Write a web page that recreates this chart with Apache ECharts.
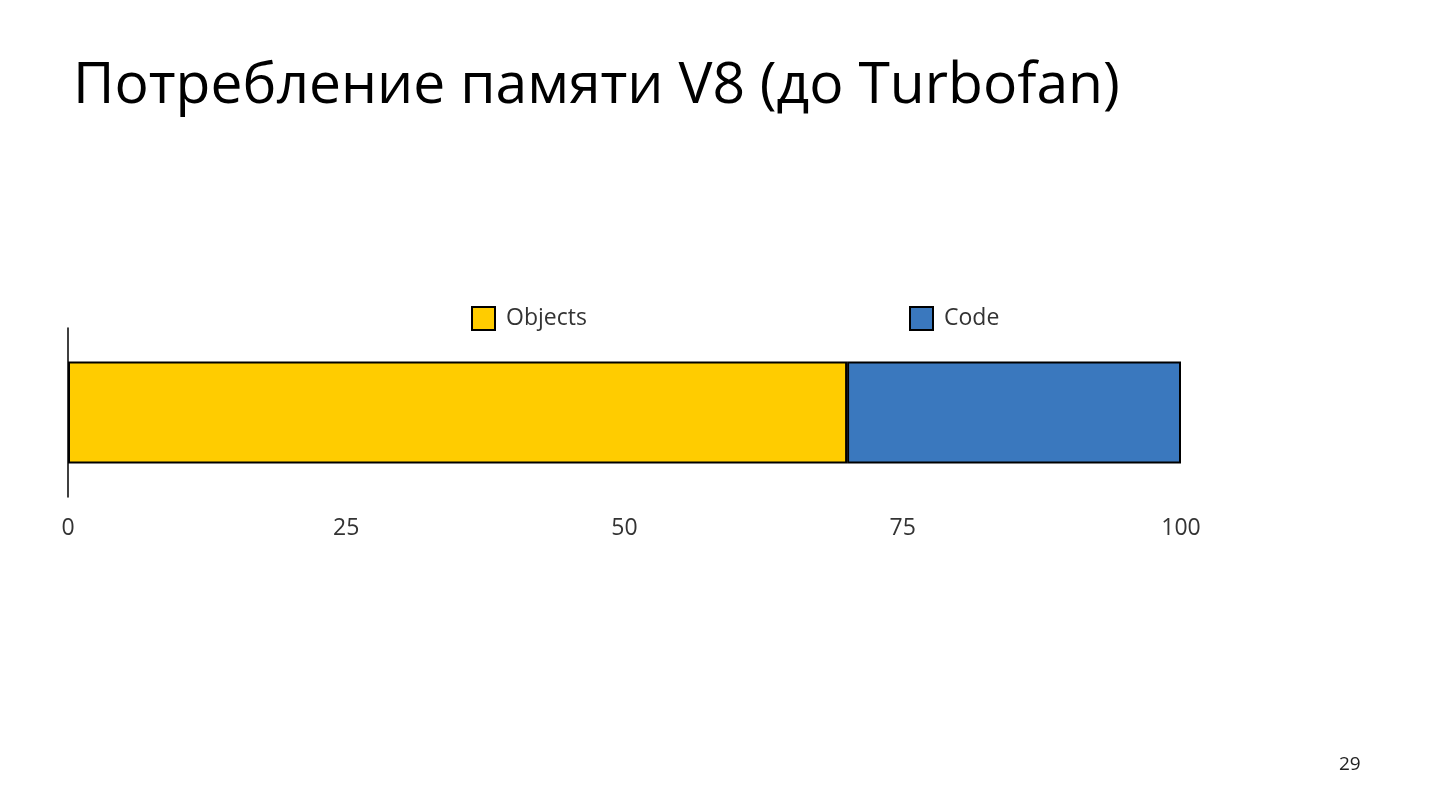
<!DOCTYPE html>
<html><head><meta charset="utf-8">
<script src="https://cdn.jsdelivr.net/npm/echarts@6/dist/echarts.min.js"></script>
<style>html,body{margin:0;padding:0;background:#fff}#c{width:1430px;height:804px}</style>
</head><body><div id="c"></div>
<script>
const categories = ['V8'];
const objectsValues = [70];
const codeValues = [30];
const xTicks = [0, 25, 50, 75, 100];
const font = '"Open Sans", sans-serif';
const chart = echarts.init(document.getElementById('c'));
chart.setOption({
  animation: false,
  backgroundColor: '#fff',
  title: [
    {text: 'Потребление памяти V8 (до Turbofan)', left: 68, top: 53,
     textStyle: {fontFamily: font, fontSize: 57, fontWeight: 'normal', color: '#000'}},
    {text: '29', left: 1334, top: 750, textStyle: {fontFamily: font, fontSize: 19, fontWeight: 'normal', color: '#222'}}
  ],
  legend: [
    {data: ['Objects'], icon: 'rect', left: 466, top: 301, itemWidth: 23, itemHeight: 23,
     textStyle: {fontFamily: font, fontSize: 23, color: '#333', padding: [0,0,0,6]}},
    {data: ['Code'], icon: 'rect', left: 904, top: 301, itemWidth: 23, itemHeight: 23,
     textStyle: {fontFamily: font, fontSize: 23, color: '#333', padding: [0,0,0,6]}}
  ],
  grid: {left: 68, right: 249, top: 328, height: 169},
  xAxis: {type: 'value', min: 0, max: 100, interval: 25,
    axisLine: {show: false}, axisTick: {show: false}, splitLine: {show: false},
    axisLabel: {margin: 20, fontFamily: font, fontSize: 23, color: '#333',
      formatter: v => xTicks.includes(v) ? String(v) : ''}},
  yAxis: {type: 'category', data: categories,
    axisLine: {show: true, lineStyle: {color: '#000', width: 1.5}},
    axisTick: {show: false}, axisLabel: {show: false}},
  series: [
    {name: 'Objects', type: 'bar', stack: 's', data: objectsValues, barWidth: 102,
     itemStyle: {color: '#FFCC00', borderColor: '#000', borderWidth: 2}},
    {name: 'Code', type: 'bar', stack: 's', data: codeValues, barWidth: 102,
     itemStyle: {color: '#3A78BE', borderColor: '#000', borderWidth: 2}}
  ]
});
</script></body></html>
